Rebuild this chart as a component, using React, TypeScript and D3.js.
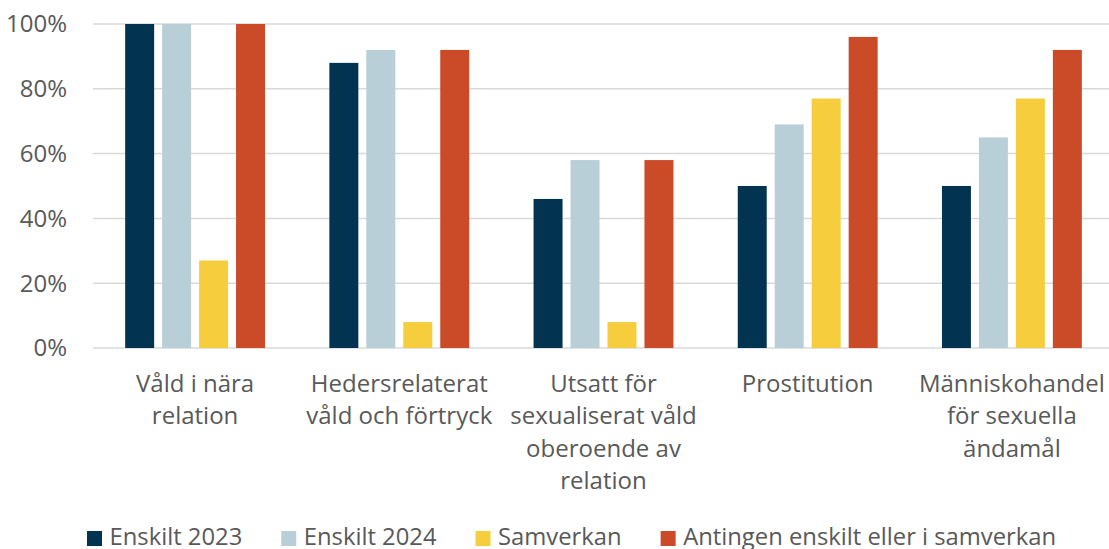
import { useEffect, useRef } from 'react';
import * as d3 from 'd3';

const categories = [
  ['Våld i nära', 'relation'],
  ['Hedersrelaterat', 'våld och förtryck'],
  ['Utsatt för', 'sexualiserat våld', 'oberoende av', 'relation'],
  ['Prostitution'],
  ['Människohandel', 'för sexuella', 'ändamål'],
];
const seriesNames = ['Enskilt 2023', 'Enskilt 2024', 'Samverkan', 'Antingen enskilt eller i samverkan'];
const enskilt2023 = [100, 88, 46, 50, 50];
const enskilt2024 = [100, 92, 58, 69, 65];
const samverkan = [27, 8, 8, 77, 77];
const antingen = [100, 92, 58, 96, 92];
const yTicks = [0, 20, 40, 60, 80, 100];
const colors = ['#023452', '#b9cfd8', '#f5cd3d', '#cb4a28'];

const W = 1109;
const H = 549;

const App = () => {
  const ref = useRef<SVGSVGElement>(null);

  useEffect(() => {
    if (!ref.current) return;
    const svg = d3.select(ref.current);
    svg.selectAll('*').remove();
    const margin = { left: 93, top: 24, bottom: 201 };
    const font = '"Open Sans", sans-serif';
    const textColor = '#595959';
    const series = [enskilt2023, enskilt2024, samverkan, antingen];

    // category bands run a bit past the right edge, as in the original
    const x0 = d3
      .scaleBand<number>()
      .domain(d3.range(categories.length))
      .range([margin.left, 1114])
      .padding(0);
    const x1 = d3
      .scaleBand<number>()
      .domain(d3.range(series.length))
      .range([0, x0.bandwidth()])
      .paddingInner(0.216)
      .paddingOuter(0.87);
    const y = d3
      .scaleLinear()
      .domain([0, 100])
      .range([H - margin.bottom, margin.top]);

    // gridlines + y labels
    const yAxis = svg.append('g');
    yAxis
      .selectAll('line')
      .data(yTicks)
      .enter()
      .append('line')
      .attr('x1', margin.left)
      .attr('x2', W)
      .attr('y1', (d) => y(d))
      .attr('y2', (d) => y(d))
      .attr('stroke', '#d9d9d9')
      .attr('stroke-width', 1.5);
    yAxis
      .selectAll('text')
      .data(yTicks)
      .enter()
      .append('text')
      .attr('x', 67)
      .attr('y', (d) => y(d))
      .attr('dy', '0.35em')
      .attr('text-anchor', 'end')
      .attr('font-family', font)
      .attr('font-size', 24)
      .attr('fill', textColor)
      .text((d) => `${d}%`);

    // bars
    series.forEach((vals, si) => {
      svg
        .append('g')
        .selectAll('rect')
        .data(vals)
        .enter()
        .append('rect')
        .attr('x', (_, i) => (x0(i) as number) + (x1(si) as number))
        .attr('y', (d) => y(d))
        .attr('width', x1.bandwidth())
        .attr('height', (d) => y(0) - y(d))
        .attr('fill', colors[si]);
    });

    // category labels
    const cat = svg.append('g');
    categories.forEach((lines, i) => {
      const t = cat
        .append('text')
        .attr('text-anchor', 'middle')
        .attr('font-family', font)
        .attr('font-size', 24)
        .attr('fill', textColor);
      lines.forEach((line, li) => {
        t.append('tspan')
          .attr('x', (x0(i) as number) + x0.bandwidth() / 2)
          .attr('y', 392 + li * 32.4)
          .text(line);
      });
    });

    // legend, laid out left to right from measured text widths
    const legend = svg.append('g');
    let lx = 87;
    seriesNames.forEach((name, i) => {
      legend
        .append('rect')
        .attr('x', lx)
        .attr('y', 531)
        .attr('width', 15)
        .attr('height', 15)
        .attr('fill', colors[i]);
      const txt = legend
        .append('text')
        .attr('x', lx + 22.5)
        .attr('y', 545)
        .attr('font-family', font)
        .attr('font-size', 23.8)
        .attr('fill', textColor)
        .text(name);
      const w = (txt.node() as SVGTextElement).getComputedTextLength();
      lx += 22.5 + w + 39;
    });
  }, []);

  return (
    <div style={{ position: 'absolute', left: 0, top: 0 }}>
      <svg ref={ref} width={W} height={H} style={{ display: 'block' }} />
    </div>
  );
};

export default App;
